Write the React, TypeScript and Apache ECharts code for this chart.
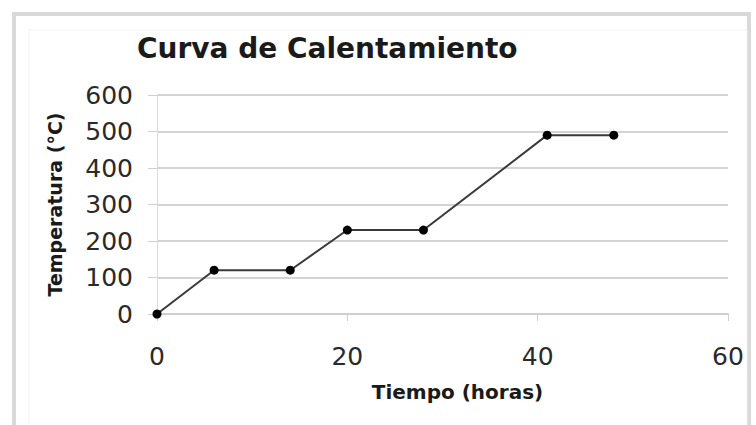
import React, { useEffect, useRef } from "react";
import * as echarts from "echarts";

const titleText = "Curva de Calentamiento";
const xAxisName = "Tiempo (horas)";
const yAxisName = "Temperatura (°C)";
const hours = [0, 6, 14, 20, 28, 41, 48];
const temps = [0, 120, 120, 230, 230, 490, 490];

export default function App() {
  const ref = useRef<HTMLDivElement>(null);
  useEffect(() => {
    if (!ref.current) return;
    const chart = echarts.init(ref.current, undefined, { renderer: "svg" });
    const font = "DejaVu Sans";
    chart.setOption({
      animation: false,
      backgroundColor: "#ffffff",
      title: {
        text: titleText,
        left: 137,
        top: 34,
        padding: 0,
        textStyle: { fontFamily: font, fontSize: 28, fontWeight: "bold", color: "#1a1a1a" },
      },
      graphic: [
        {
          type: "rect",
          shape: { x: 14, y: 14, width: 735, height: 440 },
          style: { fill: "none", stroke: "#d9d9d9", lineWidth: 4 },
          silent: true,
        },
        {
          type: "rect",
          shape: { x: 29, y: 30, width: 718, height: 420 },
          style: { fill: "none", stroke: "#f3f3f3", lineWidth: 1 },
          silent: true,
        },
      ],
      grid: { left: 157, right: 28, top: 95, bottom: 111 },
      xAxis: {
        type: "value",
        min: 0,
        max: 60,
        interval: 20,
        name: xAxisName,
        nameLocation: "middle",
        nameGap: 68,
        nameTextStyle: {
          fontFamily: font,
          fontSize: 20,
          fontWeight: "bold",
          color: "#1a1a1a",
          padding: [0, 0, 0, 30],
        },
        axisLine: { show: true, lineStyle: { color: "#cfcfcf", width: 2 } },
        axisTick: { show: true, length: 7, lineStyle: { color: "#cfcfcf", width: 1 } },
        axisLabel: { fontFamily: font, fontSize: 25, color: "#2a2a2a", margin: 30 },
        splitLine: { show: false },
      },
      yAxis: {
        type: "value",
        min: 0,
        max: 600,
        interval: 100,
        name: yAxisName,
        nameLocation: "middle",
        nameGap: 93,
        nameTextStyle: { fontFamily: font, fontSize: 19, fontWeight: "bold", color: "#1a1a1a" },
        axisLine: { show: true, lineStyle: { color: "#dcdcdc", width: 1 } },
        axisTick: { show: true, length: 9, lineStyle: { color: "#cfcfcf", width: 1 } },
        axisLabel: { fontFamily: font, fontSize: 25, color: "#2a2a2a", margin: 24 },
        splitLine: { show: true, lineStyle: { color: "#d4d4d4", width: 2 } },
      },
      series: [
        {
          type: "line",
          data: hours.map((h, i) => [h, temps[i]]),
          symbol: "circle",
          symbolSize: 9,
          itemStyle: { color: "#000000" },
          lineStyle: { color: "#3a3a3a", width: 2 },
        },
      ],
    });
    return () => chart.dispose();
  }, []);
  return (
    <div
      ref={ref}
      style={{ position: "fixed", left: 0, top: 0, width: 756, height: 425 }}
    />
  );
}
